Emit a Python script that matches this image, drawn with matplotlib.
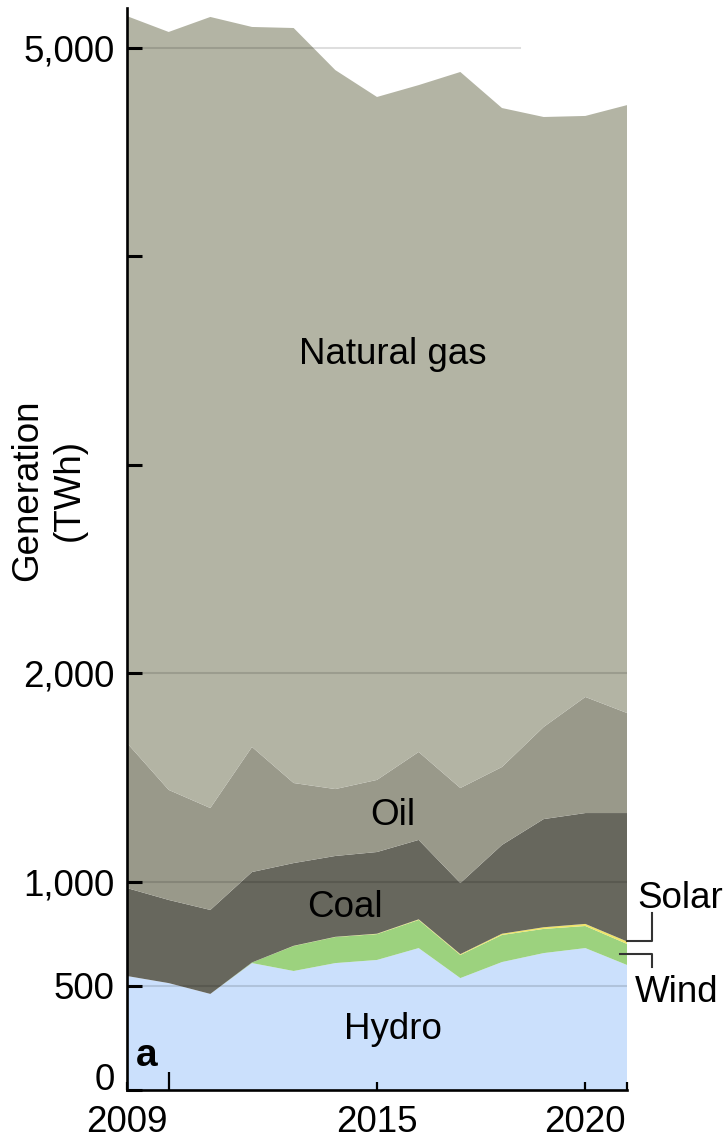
import matplotlib
matplotlib.use("Agg")
import matplotlib.pyplot as plt
import numpy as np
from matplotlib.transforms import ScaledTranslation

plt.rcParams['font.family'] = ['Liberation Sans', 'DejaVu Sans']

years = list(range(2009, 2022))
hydro = [547, 513, 461, 609, 571, 609, 624, 681, 537, 614, 657, 681, 600]
wind = [0, 0, 0, 3, 120, 125, 124, 135, 111, 130, 116, 106, 101]
solar = [0, 0, 0, 0, 1, 1, 2, 3, 4, 6, 8, 10, 12]
coal = [422, 399, 403, 434, 397, 388, 392, 381, 341, 426, 519, 532, 616]
oil = [696, 528, 489, 600, 384, 321, 346, 422, 456, 374, 442, 557, 480]
gas = [3488, 3637, 3796, 3455, 3623, 3450, 3277, 3200, 3436, 3162, 2927, 2788, 2917]

series_names = ["Hydro", "Wind", "Solar", "Coal", "Oil", "Natural gas"]
colors = ["#cbe0fc", "#9cd27e", "#efe56a", "#67675d", "#99998a", "#b3b4a4"]

ytick_vals = [0, 500, 1000, 2000, 3000, 4000, 5000]
ytick_labels = ["0", "500", "1,000", "2,000", "", "", "5,000"]
grid_vals = [500, 1000, 2000]
xtick_vals = [2009, 2015, 2020, 2021]
xtick_labels = ["2009", "2015", "2020", ""]

FS = 26.5

fig = plt.figure(figsize=(7.28, 11.44), dpi=100)
ax = fig.add_axes([127/728, 1 - 1090/1144, 500/728, (1090 - 8)/1144])

ax.stackplot(years, hydro, wind, solar, coal, oil, gas, colors=colors,
             linewidth=0, edgecolor="none", zorder=1)

ax.set_xlim(2009, 2021)
ax.set_ylim(0, 5192)

for g in grid_vals:
    ax.axhline(g, color="black", alpha=0.13, lw=1.5, zorder=2)
ax.axhline(5000, xmin=0, xmax=0.785, color="black", alpha=0.13, lw=1.5, zorder=2)

for s in ["top", "right"]:
    ax.spines[s].set_visible(False)
for s in ["left", "bottom"]:
    ax.spines[s].set_linewidth(1.9)
    ax.spines[s].set_zorder(5)

ax.set_yticks(ytick_vals)
ax.set_yticklabels(ytick_labels, fontsize=FS)
ax.tick_params(axis="y", direction="in", length=11, width=2.2, pad=9)
lbl0 = ax.get_yticklabels()[0]
lbl0.set_transform(lbl0.get_transform() + ScaledTranslation(0, 13/100, fig.dpi_scale_trans))

ax.set_xticks(xtick_vals)
ax.set_xticklabels(xtick_labels, fontsize=FS)
ax.set_xticks([2010, 2020], minor=True)
ax.tick_params(axis="x", which="major", direction="in", length=6, width=1.6, pad=11)
ax.tick_params(axis="x", which="minor", direction="in", length=13, width=1.6)

ax.text(-0.157, 0.5545, "Generation\n(TWh)", transform=ax.transAxes, rotation=90,
        ha="center", va="center", fontsize=FS, linespacing=1.25, multialignment="center")

ax.text(2015.38, 3531, "Natural gas", ha="center", va="center", fontsize=FS, zorder=6)
ax.text(2015.38, 1317, "Oil", ha="center", va="center", fontsize=FS, zorder=6)
ax.text(2014.23, 876, "Coal", ha="center", va="center", fontsize=FS, zorder=6)
ax.text(2015.38, 292, "Hydro", ha="center", va="center", fontsize=FS, zorder=6)
ax.text(2009.22, 165, "a", ha="left", va="center", fontsize=28, fontweight="bold", zorder=6)

# Leader lines for Solar and Wind
n = len(years) - 1
solar_top = hydro[n] + wind[n] + solar[n]
wind_mid = hydro[n] + wind[n] / 2
ax.plot([years[n], years[n] + 0.6, years[n] + 0.6], [solar_top, solar_top, solar_top + 135],
        color="#333333", lw=1.5, clip_on=False, zorder=6)
ax.plot([years[n] - 0.17, years[n] + 0.6, years[n] + 0.6], [wind_mid, wind_mid, wind_mid - 58],
        color="#333333", lw=1.5, clip_on=False, zorder=6)
ax.text(years[n] + 0.24, solar_top + 205, "Solar", ha="left", va="center", fontsize=FS, clip_on=False)
ax.text(years[n] + 0.2, wind_mid - 185, "Wind", ha="left", va="center", fontsize=FS, clip_on=False)

fig.savefig("out.png", dpi=100)
